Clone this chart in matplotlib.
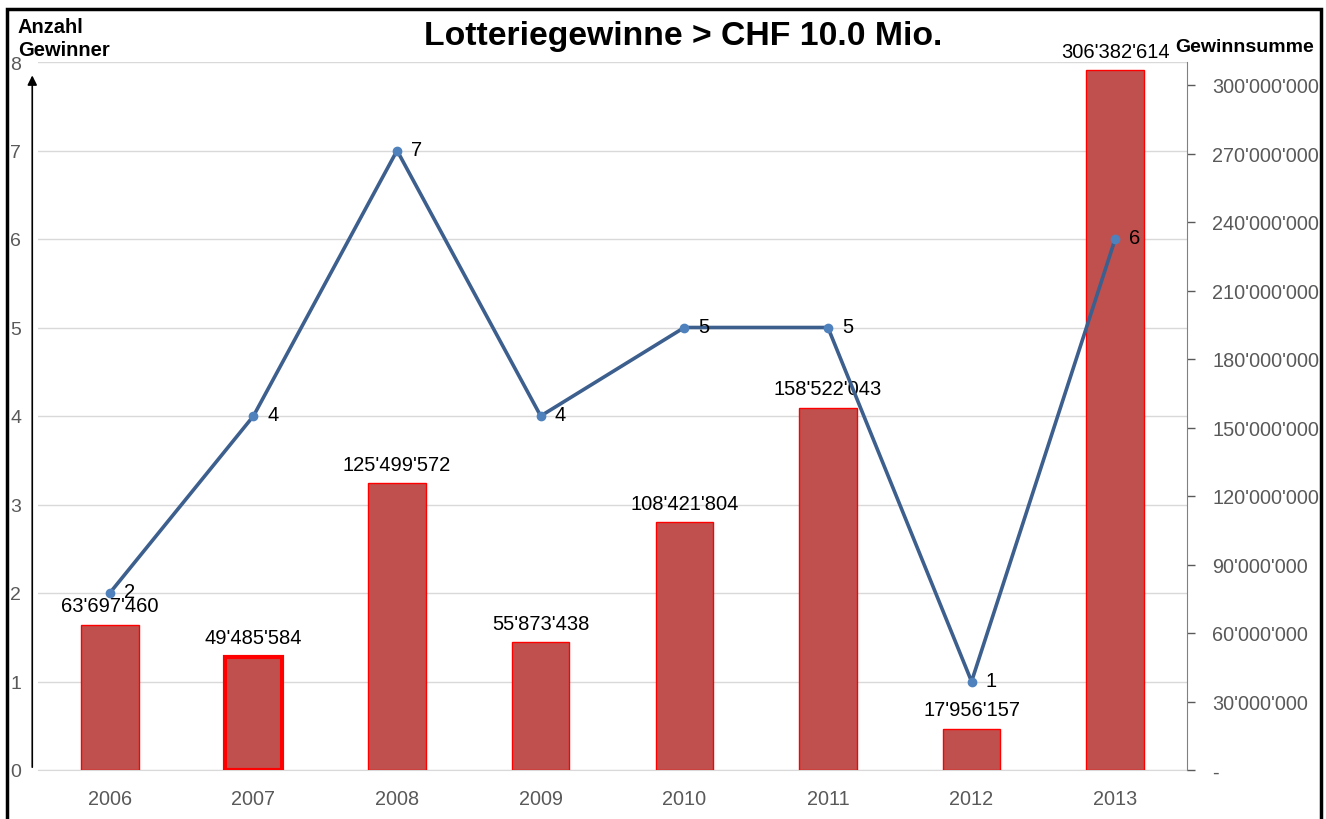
import matplotlib.pyplot as plt
from matplotlib.patches import Rectangle
from matplotlib.ticker import FuncFormatter

plt.rcParams['font.family'] = ['Liberation Sans', 'DejaVu Sans']

# data
years = ['2006', '2007', '2008', '2009', '2010', '2011', '2012', '2013']
winners = [2, 4, 7, 4, 5, 5, 1, 6]
prize_sums = [63697460, 49485584, 125499572, 55873438, 108421804,
              158522043, 17956157, 306382614]

BAR_COLOR = '#C0504D'
LINE_COLOR = '#3C5F8E'
MARKER_COLOR = '#4F81BD'
TICK_COLOR = '#595959'


def swiss_fmt(v):
    return f'{int(round(v)):,}'.replace(',', "'")


def right_fmt(v, pos):
    if abs(v) < 1:
        return '-'
    return swiss_fmt(v)


def plot_chart():
    fig = plt.figure(figsize=(13.26, 8.2), dpi=100)
    ax = fig.add_axes([38 / 1326, 1 - 771 / 820, 1149 / 1326, 708 / 820])
    ax2 = ax.twinx()

    x = range(len(years))

    # left axis: grid and scale only (sits behind the bars)
    ax.set_xlim(-0.5, len(years) - 0.5)
    ax.set_ylim(0, 8)
    ax.set_yticks(range(0, 9))
    ax.set_xticks(list(x))
    ax.set_xticklabels(years)
    ax.tick_params(axis='x', length=0, colors=TICK_COLOR, labelsize=14.3, pad=14)
    ax.tick_params(axis='y', length=0, colors=TICK_COLOR, labelsize=14, pad=12)
    ax.grid(axis='y', color='#D9D9D9', linewidth=1)
    ax.set_axisbelow(True)
    for s in ['top', 'left', 'right']:
        ax.spines[s].set_visible(False)
    ax.spines['bottom'].set_color('#D9D9D9')

    # bars on the right axis
    edge_widths = [1, 3, 1, 1, 1, 1, 1, 1]
    bars = ax2.bar(x, prize_sums, width=0.4, color=BAR_COLOR,
                   edgecolor='#FF0000', linewidth=edge_widths, zorder=2)
    for b, v in zip(bars, prize_sums):
        ax2.annotate(swiss_fmt(v), (b.get_x() + b.get_width() / 2, v),
                     xytext=(0, 7), textcoords='offset points',
                     ha='center', va='bottom', fontsize=14.5, color='black')
    ax2.set_ylim(0, 300000000 * 708 / 685)
    ax2.set_yticks(range(0, 300000001, 30000000))
    ax2.yaxis.set_major_formatter(FuncFormatter(right_fmt))
    ax2.tick_params(axis='y', colors=TICK_COLOR, labelsize=14.3,
                    length=6, width=1, pad=12)
    for s in ['top', 'left', 'bottom']:
        ax2.spines[s].set_visible(False)
    ax2.spines['right'].set_color('#808080')

    # line uses the left scale but is drawn on top of the bars
    ax2.plot(x, winners, color=LINE_COLOR, linewidth=2.6, zorder=3,
             transform=ax.transData)
    ax2.plot(x, winners, 'o', color=MARKER_COLOR, markersize=6, zorder=4,
             transform=ax.transData)
    for xi, v in zip(x, winners):
        ax2.annotate(str(v), (xi, v), xycoords=ax.transData,
                     xytext=(10, 1), textcoords='offset points',
                     ha='left', va='center', fontsize=14.5, color='black',
                     zorder=5)

    # left axis arrow
    ax.annotate('', xy=(-0.005, 0.985), xytext=(-0.005, 0),
                xycoords='axes fraction', textcoords='axes fraction',
                arrowprops=dict(arrowstyle='-|>', color='black', lw=1.2,
                                mutation_scale=14))

    fig.text(683 / 1326, 1 - 37 / 820, 'Lotteriegewinne > CHF 10.0 Mio.',
             ha='center', va='center', fontsize=24.3, fontweight='bold')
    fig.text(18 / 1326, 1 - 39 / 820, 'Anzahl\nGewinner', ha='left',
             va='center', fontsize=14.5, fontweight='bold', linespacing=1.25)
    fig.text(1175 / 1326, 1 - 47 / 820, 'Gewinnsumme', ha='left',
             va='center', fontsize=14, fontweight='bold')

    # frame around the chart
    fig.patches.append(Rectangle((7 / 1326, -0.02), 1314 / 1326,
                                 1 - 10 / 820 + 0.02, transform=fig.transFigure,
                                 fill=False, edgecolor='black', linewidth=2.5))

    fig.savefig('out.png', dpi=100)


def main():
    plot_chart()


if __name__ == '__main__':
    main()
